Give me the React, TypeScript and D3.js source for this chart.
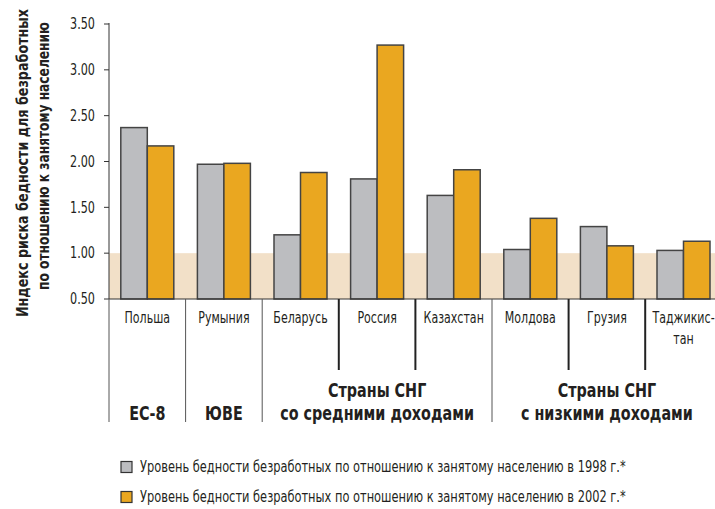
import React, { useLayoutEffect, useRef, useState } from "react";
import * as d3 from "d3";

const categories = ["Польша", "Румыния", "Беларусь", "Россия", "Казахстан", "Молдова", "Грузия", "Таджикис-|тан"];
const values1998 = [2.37, 1.97, 1.2, 1.81, 1.63, 1.04, 1.29, 1.03];
const values2002 = [2.17, 1.98, 1.88, 3.27, 1.91, 1.38, 1.08, 1.13];
const yTicks = [0.5, 1.0, 1.5, 2.0, 2.5, 3.0, 3.5];
const groups = [
  { lines: ["ЕС-8"], start: 0, end: 1 },
  { lines: ["ЮВЕ"], start: 1, end: 2 },
  { lines: ["Страны СНГ", "со средними доходами"], start: 2, end: 5 },
  { lines: ["Страны СНГ", "с низкими доходами"], start: 5, end: 8 },
];
const legendLabels = [
  "Уровень бедности безработных по отношению к занятому населению в 1998 г.*",
  "Уровень бедности безработных по отношению к занятому населению в 2002 г.*",
];
const yAxisTitle = ["Индекс риска бедности для безработных", "по отношению к занятому населению"];

const GRAY = "#bcbdc0";
const ORANGE = "#eaa720";
const SHADE = "#f2e0c8";
const FONT = "'DejaVu Sans Condensed', 'Liberation Sans Narrow', sans-serif";

function CText(props: { x: number; y: number; sx: number; size: number; bold?: boolean; anchor?: string; children: React.ReactNode }) {
  const { x, y, sx, size, bold, anchor, children } = props;
  return (
    <g transform={`translate(${x},${y}) scale(${sx},1)`}>
      <text x={0} y={0} dy="0.35em" textAnchor={anchor || "middle"} fontSize={size} fontWeight={bold ? "bold" : "normal"} fill="#231f20">
        {children}
      </text>
    </g>
  );
}

// text squeezed horizontally (in its own frame) to a target length
function FitText(props: { tx: number; ty: number; rot: number; len: number; size: number; bold?: boolean; anchor?: string; children: string }) {
  const { tx, ty, rot, len, size, bold, anchor, children } = props;
  const ref = useRef<SVGTextElement>(null);
  const [sx, setSx] = useState(0.85);
  useLayoutEffect(() => {
    if (ref.current) {
      const w = ref.current.getComputedTextLength();
      if (w > 0) setSx(len / w);
    }
  }, [len, children]);
  return (
    <g transform={`translate(${tx},${ty}) rotate(${rot}) scale(${sx},1)`}>
      <text ref={ref} x={0} y={0} dy="0.35em" textAnchor={anchor || "middle"} fontSize={size} fontWeight={bold ? "bold" : "normal"} fill="#231f20">
        {children}
      </text>
    </g>
  );
}

export default function App() {
  const W = 715, H = 509;
  const x0 = 109, bandW = 76.6;
  const xScale = d3.scaleBand<number>().domain(d3.range(categories.length)).range([x0, x0 + bandW * categories.length]).paddingInner(0).paddingOuter(0);
  const y = d3.scaleLinear().domain([0.5, 3.5]).range([299, 24]);
  const barW = 26.5;
  const groupBoundaries = new Set(groups.map((g) => g.start));
  return (
    <svg width={W} height={H} style={{ position: "absolute", left: 0, top: 0, fontFamily: FONT }}>
      <rect x={0} y={0} width={W} height={H} fill="#fff" />
      <rect x={x0} y={y(1.0)} width={W - x0} height={y(0.5) - y(1.0)} fill={SHADE} />
      {categories.map((c, i) => {
        const cx = (xScale(i) as number) + xScale.bandwidth() / 2;
        return (
          <g key={c}>
            <rect x={cx - barW} y={y(values1998[i])} width={barW} height={y(0.5) - y(values1998[i])} fill={GRAY} stroke="#444" strokeWidth={1.5} />
            <rect x={cx} y={y(values2002[i])} width={barW} height={y(0.5) - y(values2002[i])} fill={ORANGE} stroke="#444" strokeWidth={1.5} />
          </g>
        );
      })}
      <line x1={x0} x2={x0} y1={y(3.5) - 1} y2={y(0.5)} stroke="#333" strokeWidth={1} />
      {yTicks.map((t) => (
        <g key={t}>
          <line x1={x0 - 5} x2={x0} y1={y(t)} y2={y(t)} stroke="#333" strokeWidth={1} />
          <CText x={x0 - 14} y={y(t)} sx={0.83} size={15} anchor="end">{t.toFixed(2)}</CText>
        </g>
      ))}
      <line x1={x0} x2={W} y1={y(0.5)} y2={y(0.5)} stroke="#333" strokeWidth={1.2} />
      {categories.map((c, i) => {
        const xx = xScale(i) as number;
        const isGroup = groupBoundaries.has(i);
        return isGroup ? (
          <line key={"s" + i} x1={xx} x2={xx} y1={y(0.5)} y2={422} stroke="#555" strokeWidth={1} />
        ) : (
          <line key={"s" + i} x1={xx} x2={xx} y1={y(0.5)} y2={370} stroke="#222" strokeWidth={2} />
        );
      })}
      {categories.map((c, i) => {
        const cx = (xScale(i) as number) + xScale.bandwidth() / 2;
        const parts = c.split("|");
        return (
          <g key={"l" + i}>
            {parts.map((p, k) => (
              <CText key={k} x={cx} y={318 + k * 21} sx={0.82} size={15}>{p}</CText>
            ))}
          </g>
        );
      })}
      {groups.map((g, gi) => {
        const xs = xScale(g.start) as number;
        const xe = (xScale(g.end - 1) as number) + xScale.bandwidth();
        const cx = (xs + xe) / 2;
        const n = g.lines.length;
        return (
          <g key={"g" + gi}>
            {g.lines.map((l, k) => (
              <CText key={k} x={cx} y={413 - (n - 1 - k) * 23} sx={0.84} size={19} bold>{l}</CText>
            ))}
          </g>
        );
      })}
      <FitText tx={22} ty={163} rot={-90} len={308} size={16} bold>{yAxisTitle[0]}</FitText>
      <FitText tx={43} ty={156} rot={-90} len={268} size={16} bold>{yAxisTitle[1]}</FitText>
      {legendLabels.map((l, i) => {
        const ly = 467 + i * 30;
        return (
          <g key={"lg" + i}>
            <rect x={121} y={ly - 5.5} width={11} height={11} fill={i === 0 ? GRAY : ORANGE} stroke="#333" strokeWidth={1.2} />
            <FitText tx={140} ty={ly} rot={0} len={486} size={15} anchor="start">{l}</FitText>
          </g>
        );
      })}
    </svg>
  );
}
